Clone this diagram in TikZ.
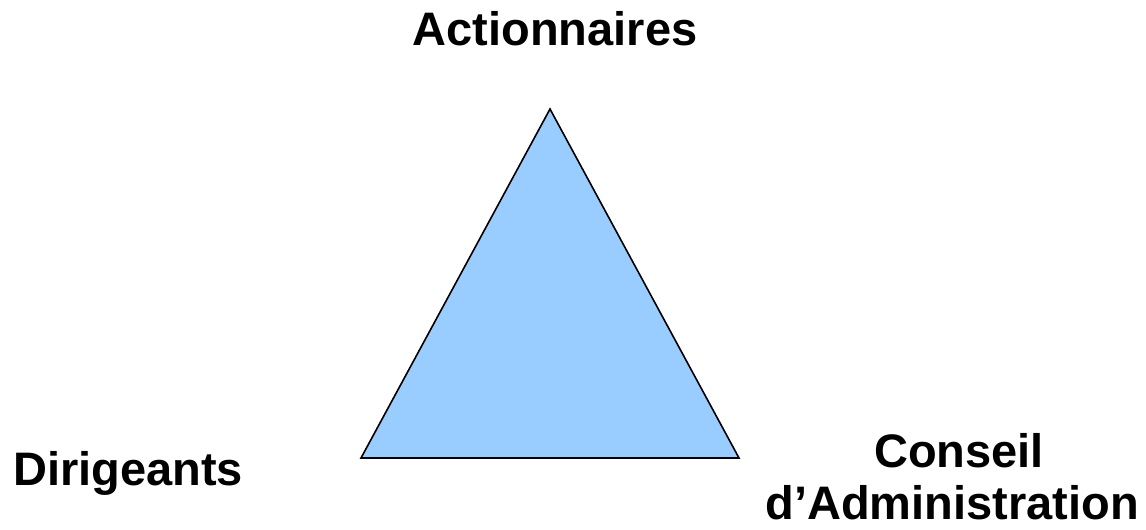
\documentclass[tikz,border=0pt]{standalone}
\usepackage{fontspec}
\setmainfont{Liberation Sans}
\begin{document}
\begin{tikzpicture}[x=1pt,y=-1pt,
  lbl/.style={font=\fontsize{47}{52}\selectfont\bfseries, inner sep=0pt, anchor=base, align=center},
  tri/.style={draw=black, line width=1.6pt, fill={rgb,255:red,153;green,204;blue,255}, line join=miter}]
\useasboundingbox (0,0) rectangle (1146,530);
\coordinate (top) at (550,109);
\coordinate (bl) at (361,458);
\coordinate (br) at (739,458);
\draw[tri] (top) -- (bl) -- (br) -- cycle;
\node[lbl] (act) at (555,45) {Actionnaires};
\node[lbl] (dir) at (128,485) {Dirigeants};
\node[lbl] (cons) at (959,467) {Conseil};
\node[lbl] (adm) at (952,519) {d’Administration};
\end{tikzpicture}
\end{document}
